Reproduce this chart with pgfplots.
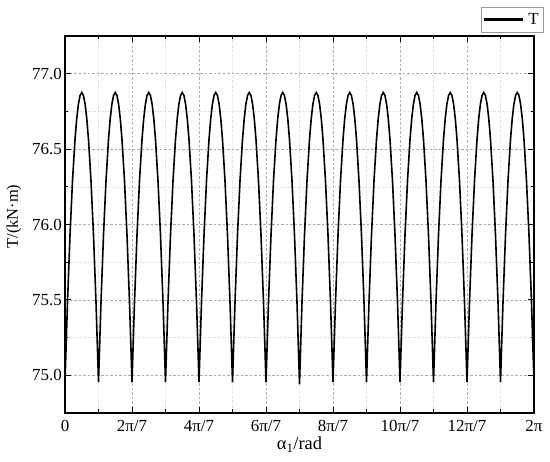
\documentclass[border=0pt]{standalone}
\usepackage{fontspec}
\setmainfont{Liberation Serif}
\usepackage{pgfplots}
\pgfplotsset{compat=1.18}
\newcommand\lab{\fontsize{17}{20}\selectfont}
\newcommand\labb{\fontsize{18.5}{22}\selectfont}
\newcommand\laby{\fontsize{16.5}{20}\selectfont}

\begin{document}
\begin{tikzpicture}
\begin{axis}[
  scale only axis, width=469bp, height=377bp,
  xmin=0, xmax=14, ymin=74.75, ymax=77.25,
  xtick={0,2,...,14},
  xticklabels={0,2π/7,4π/7,6π/7,8π/7,10π/7,12π/7,2π},
  minor xtick={1,3,...,13},
  ytick={75,75.5,76,76.5,77},
  minor ytick={75.25,75.75,76.25,76.75},
  /pgf/number format/assume math mode=true,
  yticklabel style={/pgf/number format/fixed, /pgf/number format/fixed zerofill, /pgf/number format/precision=1},
  tick label style={font=\lab, inner sep=0pt},
  yticklabel style={xshift=-3bp},
  xticklabel style={yshift=-7bp},
  tick align=inside,
  major tick length=6bp, minor tick length=3.5bp,
  tick style={line width=1bp, black},
  axis line style={line width=1.2bp},
  grid=both,
  major grid style={gray!65, line width=0.5bp, dash pattern=on 2.5bp off 2bp},
  minor grid style={gray!35, line width=0.5bp, dash pattern=on 1bp off 1.5bp},
  xlabel={α\textsubscript{1}/rad},
  ylabel={T/(kN·m)},
  label style={inner sep=0pt},
  xlabel style={font=\labb, at={(axis description cs:0.5,0)}, anchor=north, yshift=-24bp},
  ylabel style={font=\laby, at={(axis description cs:0,0.5)}, anchor=center, yshift=51bp, xshift=8bp},
  legend style={at={(axis description cs:1.019,1.077)}, anchor=north east,
    font=\lab, draw=gray!80, inner xsep=2bp, inner ysep=4bp, cells={anchor=west}},
]
\addplot[black, line width=1.6bp,
  legend image code/.code={\fill[black] (0bp,-0.85bp) rectangle (38bp,0.85bp); \path[draw=none, fill=none] (0bp,0bp) -- (42bp,0bp);}] coordinates {
(0,74.955)(0.075,75.488)(0.15,75.934)(0.225,76.294)(0.3,76.568)(0.35,76.702)(0.4,76.798)(0.45,76.856)(0.5,76.875)(0.55,76.856)(0.6,76.798)(0.65,76.702)(0.7,76.568)(0.775,76.294)(0.85,75.934)(0.925,75.488)
(1,74.955)(1.075,75.488)(1.15,75.934)(1.225,76.294)(1.3,76.568)(1.35,76.702)(1.4,76.798)(1.45,76.856)(1.5,76.875)(1.55,76.856)(1.6,76.798)(1.65,76.702)(1.7,76.568)(1.775,76.294)(1.85,75.934)(1.925,75.488)
(2,74.955)(2.075,75.488)(2.15,75.934)(2.225,76.294)(2.3,76.568)(2.35,76.702)(2.4,76.798)(2.45,76.856)(2.5,76.875)(2.55,76.856)(2.6,76.798)(2.65,76.702)(2.7,76.568)(2.775,76.294)(2.85,75.934)(2.925,75.488)
(3,74.955)(3.075,75.488)(3.15,75.934)(3.225,76.294)(3.3,76.568)(3.35,76.702)(3.4,76.798)(3.45,76.856)(3.5,76.875)(3.55,76.856)(3.6,76.798)(3.65,76.702)(3.7,76.568)(3.775,76.294)(3.85,75.934)(3.925,75.488)
(4,74.955)(4.075,75.488)(4.15,75.934)(4.225,76.294)(4.3,76.568)(4.35,76.702)(4.4,76.798)(4.45,76.856)(4.5,76.875)(4.55,76.856)(4.6,76.798)(4.65,76.702)(4.7,76.568)(4.775,76.294)(4.85,75.934)(4.925,75.488)
(5,74.955)(5.075,75.488)(5.15,75.934)(5.225,76.294)(5.3,76.568)(5.35,76.702)(5.4,76.798)(5.45,76.856)(5.5,76.875)(5.55,76.856)(5.6,76.798)(5.65,76.702)(5.7,76.568)(5.775,76.294)(5.85,75.934)(5.925,75.488)
(6,74.955)(6.075,75.488)(6.15,75.934)(6.225,76.294)(6.3,76.568)(6.35,76.702)(6.4,76.798)(6.45,76.856)(6.5,76.875)(6.55,76.856)(6.6,76.798)(6.65,76.702)(6.7,76.568)(6.775,76.294)(6.85,75.934)(6.925,75.488)
(7,74.94)(7.075,75.488)(7.15,75.934)(7.225,76.294)(7.3,76.568)(7.35,76.702)(7.4,76.798)(7.45,76.856)(7.5,76.875)(7.55,76.856)(7.6,76.798)(7.65,76.702)(7.7,76.568)(7.775,76.294)(7.85,75.934)(7.925,75.488)
(8,74.955)(8.075,75.488)(8.15,75.934)(8.225,76.294)(8.3,76.568)(8.35,76.702)(8.4,76.798)(8.45,76.856)(8.5,76.875)(8.55,76.856)(8.6,76.798)(8.65,76.702)(8.7,76.568)(8.775,76.294)(8.85,75.934)(8.925,75.488)
(9,74.955)(9.075,75.488)(9.15,75.934)(9.225,76.294)(9.3,76.568)(9.35,76.702)(9.4,76.798)(9.45,76.856)(9.5,76.875)(9.55,76.856)(9.6,76.798)(9.65,76.702)(9.7,76.568)(9.775,76.294)(9.85,75.934)(9.925,75.488)
(10,74.955)(10.075,75.488)(10.15,75.934)(10.225,76.294)(10.3,76.568)(10.35,76.702)(10.4,76.798)(10.45,76.856)(10.5,76.875)(10.55,76.856)(10.6,76.798)(10.65,76.702)(10.7,76.568)(10.775,76.294)(10.85,75.934)(10.925,75.488)
(11,74.955)(11.075,75.488)(11.15,75.934)(11.225,76.294)(11.3,76.568)(11.35,76.702)(11.4,76.798)(11.45,76.856)(11.5,76.875)(11.55,76.856)(11.6,76.798)(11.65,76.702)(11.7,76.568)(11.775,76.294)(11.85,75.934)(11.925,75.488)
(12,74.955)(12.075,75.488)(12.15,75.934)(12.225,76.294)(12.3,76.568)(12.35,76.702)(12.4,76.798)(12.45,76.856)(12.5,76.875)(12.55,76.856)(12.6,76.798)(12.65,76.702)(12.7,76.568)(12.775,76.294)(12.85,75.934)(12.925,75.488)
(13,74.955)(13.075,75.488)(13.15,75.934)(13.225,76.294)(13.3,76.568)(13.35,76.702)(13.4,76.798)(13.45,76.856)(13.5,76.875)(13.55,76.856)(13.6,76.798)(13.65,76.702)(13.7,76.568)(13.775,76.294)(13.85,75.934)(13.925,75.488)
(14,74.955)
};
\addlegendentry{T}
\coordinate (sw) at (rel axis cs:0,0);
\coordinate (ne) at (rel axis cs:1,1);
\end{axis}
\path ([shift={(-65bp,-49bp)}]sw) rectangle ([shift={(16bp,36bp)}]ne);
\end{tikzpicture}
\end{document}
